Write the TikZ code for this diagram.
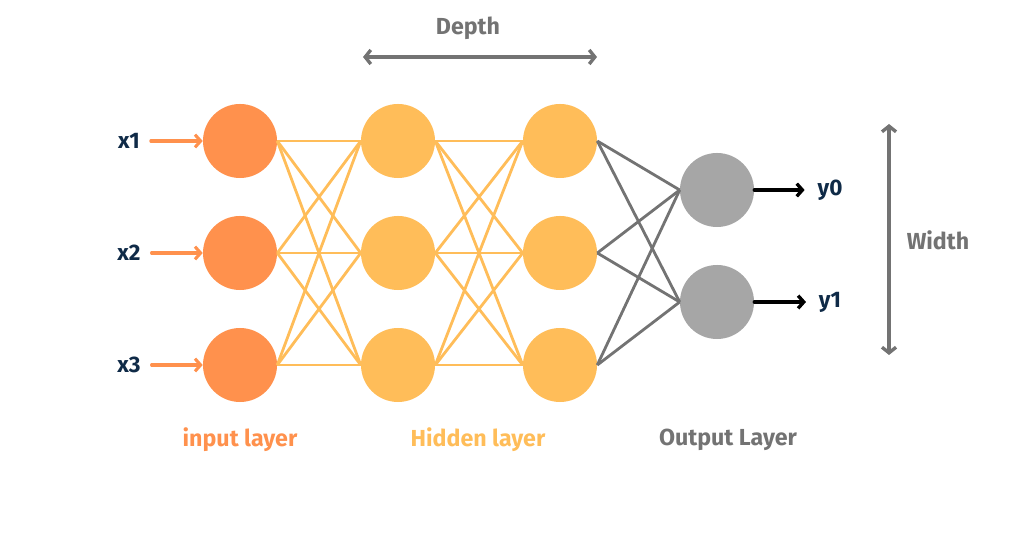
\documentclass[tikz,border=0pt]{standalone}
\usepackage{fontspec}
\setmainfont{Fira Sans}
\usetikzlibrary{positioning}
\usetikzlibrary{arrows.meta}
\definecolor{inorange}{HTML}{FF914D}
\definecolor{hidorange}{HTML}{FFBD59}
\definecolor{outgray}{HTML}{A6A6A6}
\definecolor{linegray}{HTML}{737373}
\definecolor{navy}{HTML}{0F2A47}
\tikzstyle{neuron}=[circle,draw=none,minimum size=1.85cm,inner sep=0pt]
\tikzstyle{inedge} = [draw,line width=2.2pt,inorange,-{Straight Barb[length=4pt,width=9pt]},line cap=round]
\tikzstyle{outedge} = [draw,line width=2.4pt,black,-{Straight Barb[length=4pt,width=9pt]},line cap=round]
\tikzstyle{link} = [draw,line width=2pt]
\tikzstyle{dimarrow} = [draw,line width=2.4pt,linegray,{Straight Barb[length=4pt,width=10pt]}-{Straight Barb[length=4pt,width=10pt]},line cap=round]
\tikzstyle{varlabel} = [font=\bfseries\fontsize{16}{18}\selectfont,text=navy]
\tikzstyle{caption} = [font=\bfseries\fontsize{16.5}{18}\selectfont]

\begin{document}
\begin{tikzpicture}[x=0.025cm,y=-0.025cm]
    \useasboundingbox (0,0) rectangle (1024,536);

%layers
    \foreach \pos/\name in {{(240,141)/i1}, {(240,253)/i2}, {(240,365)/i3}}
        \node[neuron,fill=inorange] (\name) at \pos {};
    \foreach \pos/\name in {{(398,141)/a1}, {(398,253)/a2}, {(398,365)/a3}, {(560,141)/b1}, {(560,253)/b2}, {(560,365)/b3}}
        \node[neuron,fill=hidorange] (\name) at \pos {};
    \foreach \pos/\name in {{(717,190)/o0}, {(717,302)/o1}}
        \node[neuron,fill=outgray] (\name) at \pos {};

% Edges
    \foreach \source in {i1,i2,i3}
        \foreach \dest in {a1,a2,a3}
            \path[link,hidorange] (\source.east) -- (\dest.west);
    \foreach \source in {a1,a2,a3}
        \foreach \dest in {b1,b2,b3}
            \path[link,hidorange] (\source.east) -- (\dest.west);
    \foreach \source in {b1,b2,b3}
        \foreach \dest in {o0,o1}
            \path[link,linegray] (\source.east) -- (\dest.west);

% inputs / outputs
    \foreach \pos/\name/\label in {{(129,141)/x1/x1}, {(129,253)/x2/x2}, {(129,365)/x3/x3}}
        \node[varlabel] (\name) at \pos {\label};
    \foreach \source/\dest in {x1/i1, x2/i2, x3/i3}
        \path[inedge] (\source.east) ++(6,0) -- (\dest.west);

    \foreach \pos/\name/\label in {{(830,190)/y0/y0}, {(830,302)/y1/y1}}
        \node[varlabel] (\name) at \pos {\label};
    \foreach \source/\dest in {o0/y0, o1/y1}
        \path[outedge] (\source.east) -- ([xshift=-0.2cm]\dest.west);

% Depth and Width
    \node[caption,text=linegray] (depth) at (468,28) {Depth};
    \coordinate (dl) at (363,57);
    \coordinate (dr) at (597,57);
    \path[dimarrow] (dl) -- (dr);

    \node[caption,text=linegray] (width) at (938,240) {Width};
    \coordinate (wt) at (889,124);
    \coordinate (wb) at (889,355);
    \path[dimarrow] (wt) -- (wb);

% Label
    \node[caption,text=inorange] (inlab) at (240,440) {input layer};
    \node[caption,text=hidorange] (hidlab) at (478,440) {Hidden layer};
    \node[caption,text=linegray] (outlab) at (728,440) {Output Layer};

\end{tikzpicture}
\end{document}
